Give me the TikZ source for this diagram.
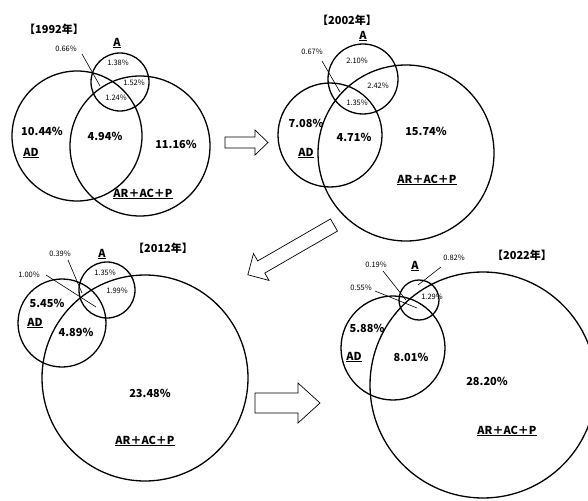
\documentclass[tikz,border=0pt]{standalone}
\usepackage{fontspec}
\setmainfont{Noto Sans CJK JP}
\usepackage{tikz}
\usetikzlibrary{positioning, calc}

\begin{document}
\begin{tikzpicture}[x=1pt, y=-1pt]
  \tikzstyle{venn}=[circle, draw, line width=1.3pt, inner sep=0pt]
  \tikzstyle{pctlbl}=[inner sep=1pt, font=\fontsize{11}{12}\selectfont\bfseries]
  \tikzstyle{smalllbl}=[inner sep=1pt, font=\fontsize{7.5}{8}\selectfont]
  \tikzstyle{yearlbl}=[inner sep=1pt, font=\fontsize{11}{12}\selectfont\bfseries]
  \tikzstyle{leader}=[line width=0.6pt]
  \tikzstyle{bigarr}=[draw, line width=0.7pt, fill=white]
  \useasboundingbox (0,0) rectangle (588,500);
  \clip (0,0) rectangle (588,500);

  % 1992
  \node[yearlbl] (y92) at (54,29) {【1992年】};
  \node[venn, minimum size=130pt] (ad92) at (77,136) {};
  \node[venn, minimum size=140pt] (ar92) at (140,146) {};
  \node[venn, minimum size=58pt] (a92) at (120,82) {};
  \node[pctlbl] (na92) at (117,43) {\underline{A}};
  \node[smalllbl] (p066) at (66,49) {0.66\%};
  \node[smalllbl] (p138) at (118,63) {1.38\%};
  \node[smalllbl] (p152) at (134,83) {1.52\%};
  \node[smalllbl] (p124) at (116,98) {1.24\%};
  \node[pctlbl] (p1044) at (42,131) {10.44\%};
  \node[pctlbl] (nad92) at (31,153) {\underline{AD}};
  \node[pctlbl] (p494) at (105,136) {4.94\%};
  \node[pctlbl] (p1116) at (176,144) {11.16\%};
  \node[pctlbl] (nar92) at (143,194) {\underline{AR＋AC＋P}};
  \coordinate (e066) at (100,86);
  \draw[leader] (82,54) -- (e066);

  % 2002
  \node[yearlbl] (y02) at (347,20) {【2002年】};
  \node[venn, minimum size=104pt] (ad02) at (330,135) {};
  \node[venn, minimum size=176pt] (ar02) at (406,153) {};
  \node[venn, minimum size=70pt] (a02) at (363,79) {};
  \node[pctlbl] (na02) at (363,36) {\underline{A}};
  \node[smalllbl] (p067) at (312,52) {0.67\%};
  \node[smalllbl] (p210) at (357,61) {2.10\%};
  \node[smalllbl] (p242) at (378,86) {2.42\%};
  \node[smalllbl] (p135a) at (357,103) {1.35\%};
  \node[pctlbl] (p708) at (306,123) {7.08\%};
  \node[pctlbl] (nad02) at (306,153) {\underline{AD}};
  \node[pctlbl] (p471) at (354,137) {4.71\%};
  \node[pctlbl] (p1574) at (426,131) {15.74\%};
  \node[pctlbl] (nar02) at (427,180) {\underline{AR＋AC＋P}};
  \coordinate (e067) at (340,92);
  \draw[leader] (322,61) -- (e067);

  % 2012
  \node[yearlbl] (y12) at (163,248) {【2012年】};
  \node[venn, minimum size=88pt] (ad12) at (62,323) {};
  \node[venn, minimum size=206pt] (ar12) at (145,378) {};
  \node[venn, minimum size=56pt] (a12) at (107,290) {};
  \node[pctlbl] (na12) at (102,254) {\underline{A}};
  \node[smalllbl] (p039) at (60,254) {0.39\%};
  \node[smalllbl] (p100) at (29,275) {1.00\%};
  \node[smalllbl] (p135b) at (105,273) {1.35\%};
  \node[smalllbl] (p199) at (117,291) {1.99\%};
  \node[pctlbl] (p545) at (47,303) {5.45\%};
  \node[pctlbl] (nad12) at (35,323) {\underline{AD}};
  \node[pctlbl] (p489) at (76,332) {4.89\%};
  \node[pctlbl] (p2348) at (150,393) {23.48\%};
  \node[pctlbl] (nar12) at (145,441) {\underline{AR＋AC＋P}};
  \coordinate (e039) at (82,293);
  \coordinate (e100) at (96,307);
  \draw[leader] (68,260) -- (e039);
  \draw[leader] (46,275) -- (e100);

  % 2022
  \node[yearlbl] (y22) at (522,255) {【2022年】};
  \node[venn, minimum size=104pt] (ad22) at (393,348) {};
  \node[venn, minimum size=226pt] (ar22) at (483,385) {};
  \node[venn, minimum size=40pt] (a22) at (419,300) {};
  \node[pctlbl] (na22) at (415,266) {\underline{A}};
  \node[smalllbl] (p019) at (376,265) {0.19\%};
  \node[smalllbl] (p082) at (454,258) {0.82\%};
  \node[smalllbl] (p055) at (361,288) {0.55\%};
  \node[smalllbl] (p129) at (432,297) {1.29\%};
  \node[pctlbl] (p588) at (367,328) {5.88\%};
  \node[pctlbl] (nad22) at (354,357) {\underline{AD}};
  \node[pctlbl] (p801) at (411,357) {8.01\%};
  \node[pctlbl] (p2820) at (487,381) {28.20\%};
  \node[pctlbl] (nar22) at (507,431) {\underline{AR＋AC＋P}};
  \coordinate (e019) at (406,300);
  \coordinate (e055) at (417,308);
  \coordinate (e082) at (418,285);
  \draw[leader] (383,271) -- (e019);
  \draw[leader] (375,291) -- (e055);
  \draw[leader] (441,267) -- (e082);

  % block arrows
  \begin{scope}[shift={(225,142.5)}]
    \draw[bigarr] (0,-5.5) -- (30,-5.5) -- (30,-12.5) -- (43,0) -- (30,12.5) -- (30,5.5) -- (0,5.5) -- cycle;
  \end{scope}
  \begin{scope}[shift={(334,225)}, rotate=210]
    \draw[bigarr] (0,-7) -- (84,-7) -- (84,-15.5) -- (99.5,0) -- (84,15.5) -- (84,7) -- (0,7) -- cycle;
  \end{scope}
  \begin{scope}[shift={(255,403)}]
    \draw[bigarr] (0,-10) -- (43,-10) -- (43,-20) -- (65,0) -- (43,20) -- (43,10) -- (0,10) -- cycle;
  \end{scope}
\end{tikzpicture}
\end{document}
